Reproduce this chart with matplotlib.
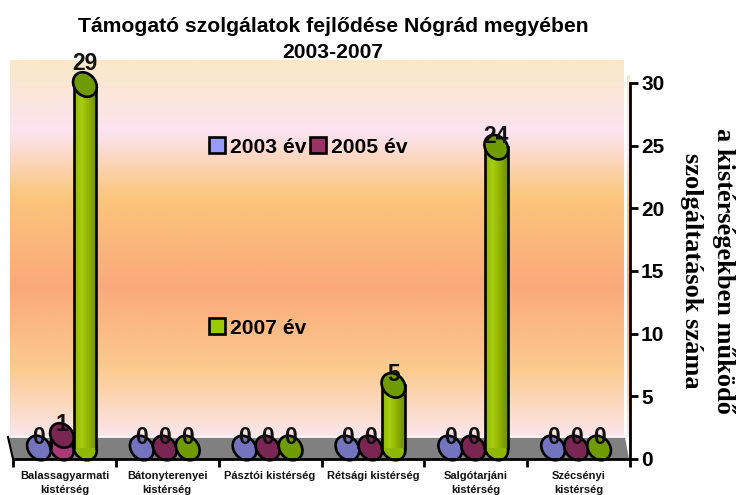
import numpy as np
import matplotlib
matplotlib.use("Agg")
import matplotlib.pyplot as plt
from matplotlib.colors import LinearSegmentedColormap
from matplotlib.patches import Ellipse, Rectangle, Polygon, Patch
from matplotlib.transforms import Affine2D

categories = ["Balassagyarmati\nkistérség", "Bátonyterenyei\nkistérség", "Pásztói kistérség",
              "Rétsági kistérség", "Salgótarjáni\nkistérség", "Szécsényi\nkistérség"]
y2003 = [0, 0, 0, 0, 0, 0]
y2005 = [1, 0, 0, 0, 0, 0]
y2007 = [29, 0, 0, 5, 24, 0]
series_names = ["2003 év", "2005 év", "2007 év"]
title_lines = ["Támogató szolgálatok fejlődése Nógrád megyében", "2003-2007"]
ylabel_text = "a kistérségekben működő\nszolgáltatások száma"
yticks = [0, 5, 10, 15, 20, 25, 30]

W, H = 739, 495
plt.rcParams["font.family"] = ["Liberation Sans", "DejaVu Sans"]
fig = plt.figure(figsize=(W / 100, H / 100), dpi=100, facecolor="white")

def px_axes(x0, y0, x1, y1, **kw):
    return fig.add_axes([x0 / W, 1 - y1 / H, (x1 - x0) / W, (y1 - y0) / H], **kw)

# background in pixel coordinates
bg = px_axes(0, 0, W, H, zorder=0)
bg.set_xlim(0, W); bg.set_ylim(H, 0); bg.axis("off")
wall_cmap = LinearSegmentedColormap.from_list("wall", [
    (0.00, "#FAE9C8"), (0.19, "#FDE3F0"), (0.36, "#FBC67C"), (0.60, "#FBA97A"),
    (0.82, "#FBCB8E"), (1.00, "#FCE6EC")])
grad = np.linspace(0, 1, 256).reshape(-1, 1)
bg.imshow(grad, cmap=wall_cmap, extent=(10, 624, 437, 60), aspect="auto", zorder=1)
bg.imshow(grad, cmap=wall_cmap, extent=(627, 630, 437, 75), aspect="auto", zorder=1)
bg.set_xlim(0, W); bg.set_ylim(H, 0)
bg.add_patch(Polygon([(8, 437), (625, 437), (629, 459), (13, 459)], closed=True,
                     facecolor="#808080", edgecolor="none", zorder=2))
bg.plot([8, 625], [436.5, 436.5], color="white", lw=1.2, zorder=3)
bg.plot([8, 13], [437, 459], color="black", lw=1.5, zorder=3)

# main axes
ax = px_axes(13, 83, 630, 459, zorder=2)
ax.patch.set_alpha(0)
ax.set_xlim(0, 6); ax.set_ylim(0, 30)
for s in ("left", "top"):
    ax.spines[s].set_visible(False)
for s in ("right", "bottom"):
    ax.spines[s].set_linewidth(2)
    ax.spines[s].set_zorder(9)
ax.yaxis.tick_right()
ax.set_yticks(yticks)
ax.set_xticks(range(7))
ax.set_xticklabels([])
ax.tick_params(axis="y", length=6, width=2, labelsize=15, pad=2)
ax.tick_params(axis="x", length=6, width=2)
for lab in ax.get_yticklabels():
    lab.set_fontweight("bold")
for i, c in enumerate(categories):
    ax.annotate(c, (i + 0.5, 0), xytext=(0, -12), textcoords="offset pixels", ha="center", va="top",
                fontsize=8, fontweight="bold", linespacing=1.5, annotation_clip=False, color="#111111")
ax.yaxis.set_label_position("right")
ax.set_ylabel(ylabel_text, rotation=270, fontfamily="Liberation Serif", fontweight="bold",
              fontsize=19, linespacing=1.45, va="center", ha="center")
ax.yaxis.set_label_coords((707.5 - 13) / 617, 0.5)
fig.text(333 / W, 1 - 26 / H, title_lines[0], ha="center", va="center", fontsize=15.2, fontweight="bold")
fig.text(333 / W, 1 - 53 / H, title_lines[1], ha="center", va="center", fontsize=15.2, fontweight="bold")

# cylinders
styles = [
    ("#7474BE", ["#8A8AD8", "#9A9AE8", "#7C7CC4", "#60609C"]),
    ("#7A2652", ["#A83C78", "#B4487F", "#8C2C5C", "#6C2048"]),
    ("#6F9A00", ["#8FB800", "#A8CE10", "#8FB000", "#6C8C18"]),
]
bw = 22.5 / (617 / 6)
floor_off = 11 / (376 / 30)
offsets = [-25.5, -2.5, 20.5]

def ell(x, y, fc, z):
    px, py = ax.transData.transform((x, y))
    e = Ellipse((0, 0), 26.5, 21.5, angle=-50, facecolor=fc, edgecolor="black", lw=1.9, zorder=z,
                transform=Affine2D().translate(px, py), clip_on=False)
    ax.add_patch(e)

for k, vals in enumerate([y2003, y2005, y2007]):
    top, stops = styles[k]
    cmap = LinearSegmentedColormap.from_list("c", stops)
    for i, v in enumerate(vals):
        x = i + 0.5 + offsets[k] / (617 / 6)
        z = 5 + k
        ell(x, floor_off, stops[0] if v else top, z)
        if v > 0:
            r = Rectangle((x - bw / 2, floor_off), bw, v, facecolor="none", edgecolor="none",
                          transform=ax.transData, clip_on=False)
            ax.add_patch(r)
            im = ax.imshow(np.linspace(0, 1, 64).reshape(1, -1), cmap=cmap, aspect="auto",
                           extent=(x - bw / 2, x + bw / 2, floor_off, floor_off + v), zorder=z)
            im.set_clip_path(r)
            ax.plot([x - bw / 2] * 2, [floor_off, floor_off + v], color="black", lw=1.9, zorder=z, clip_on=False)
            ax.plot([x + bw / 2] * 2, [floor_off, floor_off + v], color="black", lw=1.9, zorder=z, clip_on=False)
            ell(x, floor_off + v, top, z)
        ax.annotate(str(v), (x, floor_off + v), xytext=(0, 21 if v >= 29 else 11), textcoords="offset pixels",
                    ha="center", va="center", fontsize=16.5, fontweight="bold", zorder=10,
                    annotation_clip=False, color="#111111")
ax.set_xlim(0, 6); ax.set_ylim(0, 30)

# legend
legend_colors = ["#9999FF", "#993366", "#99CC00"]
def handles(idx):
    return [Patch(facecolor=legend_colors[j], edgecolor="black", lw=1.9, label=series_names[j]) for j in idx]
kw = dict(frameon=False, handlelength=0.75, handleheight=0.75, handletextpad=0.25, columnspacing=0.15,
          borderpad=0, borderaxespad=0, loc="center left", bbox_transform=fig.transFigure,
          prop={"size": 15.2, "weight": "bold"})
l1 = ax.legend(handles=handles([0, 1]), ncol=2, bbox_to_anchor=(209 / W, 1 - 147 / H), **kw)
l1.set_zorder(11)
ax.add_artist(l1)
l2 = ax.legend(handles=handles([2]), bbox_to_anchor=(209 / W, 1 - 328 / H), **kw)
l2.set_zorder(11)

fig.savefig("out.png", dpi=100, facecolor="white")
